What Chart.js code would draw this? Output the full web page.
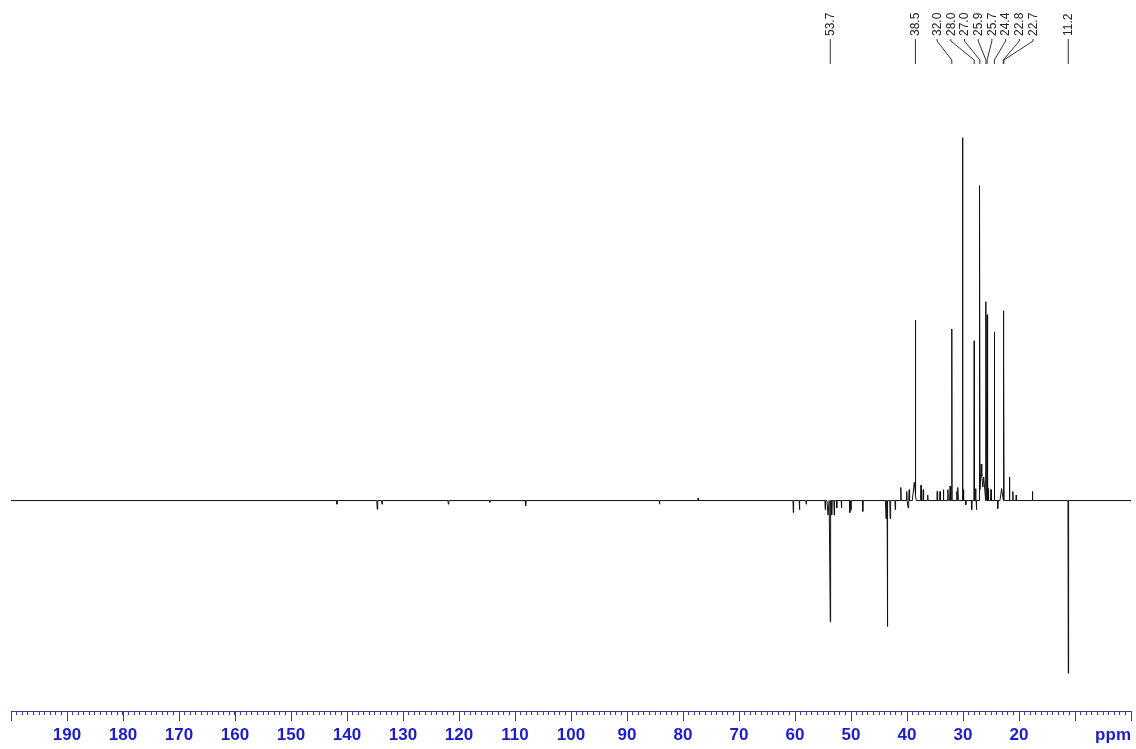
<!DOCTYPE html>
<html>
<head>
<meta charset="utf-8">
<script src="https://cdn.jsdelivr.net/npm/chart.js@4.4.1/dist/chart.umd.min.js"></script>
<style>
  html, body { margin: 0; padding: 0; background: #fff; }
  canvas { display: block; }
</style>
</head>
<body>
<canvas id="spectrum" width="1136" height="749"></canvas>
<script>
// 13C DEPT-135 peak list: chemical shift (ppm), signed intensity, half width at base (ppm)
const peakShifts = [
  141.8, 134.6, 133.75, 121.9, 114.5, 108.1, 84.2, 77.3,
  60.3, 59.2, 58.0, 54.6, 54.1, 53.7, 53.45, 53.0, 52.55, 51.7, 50.2, 50.0, 47.9,
  43.75, 43.5, 43.0, 42.1, 41.1, 40.05, 39.8, 39.6, 38.7, 38.5, 37.5, 37.1, 36.3,
  34.6, 34.1, 33.5, 32.7, 32.3, 32.0, 31.1, 30.9, 30.1, 29.95, 29.5, 28.45, 28.0,
  27.75, 27.6, 27.1, 27.0, 26.75, 26.3, 25.9, 25.7, 25.5, 25.0, 24.4, 23.8, 23.1,
  22.8, 22.7, 21.7, 21.1, 20.5, 17.6, 11.2
];
const peakIntensities = [
  -1.0, -2.4, -1.0, -1.0, -0.5, -1.5, -1.0, 0.7,
  -3.3, -2.5, -1.0, -2.5, -4.0, -33.4, -4.0, -4.0, -2.0, -2.0, -3.3, -2.5, -3.0,
  -5.0, -34.7, -5.0, -2.5, 3.6, 2.5, -2.0, 3.0, 5.0, 47.6, 4.2, 3.0, 1.5,
  2.5, 2.5, 3.0, 3.0, 4.0, 47.3, 2.5, 3.6, 100, 3.0, -1.2, -2.5, 44.0,
  3.3, -2.5, 50.5, 85.1, 10.0, 6.5, 54.8, 51.2, 3.3, 3.0, 46.5, -2.2, 3.3,
  52.3, 38.0, 6.5, 2.5, 1.5, 2.5, -47.6
];
const peakHalfWidths = [
  0.08, 0.08, 0.08, 0.08, 0.08, 0.08, 0.08, 0.08,
  0.06, 0.06, 0.06, 0.06, 0.2, 0.06, 0.08, 0.06, 0.06, 0.06, 0.06, 0.06, 0.06,
  0.1, 0.06, 0.08, 0.06, 0.06, 0.06, 0.06, 0.06, 0.35, 0.05, 0.06, 0.06, 0.06,
  0.06, 0.06, 0.06, 0.06, 0.1, 0.05, 0.06, 0.06, 0.05, 0.06, 0.06, 0.06, 0.05,
  0.06, 0.06, 0.04, 0.04, 0.3, 0.35, 0.04, 0.04, 0.06, 0.06, 0.05, 0.06, 0.3,
  0.04, 0.04, 0.05, 0.06, 0.06, 0.05, 0.06
];

// peaks annotated with their shift along the top
const annotatedShifts = [53.7, 38.5, 32.0, 28.0, 27.0, 25.9, 25.7, 24.4, 22.8, 22.7, 11.2];

// labelled major ticks on the shift axis
const axisTickLabels = [190, 180, 170, 160, 150, 140, 130, 120, 110, 100, 90, 80, 70, 60, 50, 40, 30, 20];
const axisUnit = 'ppm';
const shiftRange = [0, 200];

const AXIS_COLOR = '#3a3a96';
const LABEL_COLOR = '#1c1cc8';
const LABEL_FONT = { family: '"Liberation Sans", Arial, sans-serif', size: 17, weight: 'bold' };
const AXIS_BOX_HEIGHT = 34;

// piecewise-linear spectrum: every peak is a narrow triangle on a flat baseline
function buildSpectrum() {
  const xs = new Set(shiftRange);
  peakShifts.forEach((p, i) => {
    const w = peakHalfWidths[i];
    xs.add(p - w); xs.add(p); xs.add(p + w);
  });
  return [...xs].sort((a, b) => b - a).map(x => ({
    x,
    y: peakShifts.reduce((s, p, i) => {
      const d = Math.abs(x - p), w = peakHalfWidths[i];
      return d < w - 1e-9 ? s + peakIntensities[i] * (1 - d / w) : s;
    }, 0)
  }));
}

// spread crowded labels apart while keeping each group centred on its peaks
function spreadLabels(pixels, gap) {
  const groups = [];
  pixels.forEach((p, i) => {
    groups.push({ members: [i], sum: p });
    while (groups.length > 1) {
      const b = groups[groups.length - 1], a = groups[groups.length - 2];
      const na = a.members.length, nb = b.members.length;
      const startA = a.sum / na - (na - 1) * gap / 2;
      const startB = b.sum / nb - (nb - 1) * gap / 2;
      if (startA + na * gap > startB) {
        a.members.push(...b.members);
        a.sum += b.sum;
        groups.pop();
      } else break;
    }
  });
  const out = [];
  groups.forEach(g => {
    const n = g.members.length;
    const start = g.sum / n - (n - 1) * gap / 2;
    g.members.forEach((m, k) => { out[m] = start + k * gap; });
  });
  return out;
}

const axisDecor = {
  id: 'axisDecor',
  afterDraw(chart) {
    const sx = chart.scales.x;
    const ctx = chart.ctx;
    const y0 = sx.top;
    ctx.save();
    // long tick marks every 10 ppm
    ctx.strokeStyle = AXIS_COLOR;
    ctx.lineWidth = 1;
    ctx.beginPath();
    for (let v = shiftRange[0]; v <= shiftRange[1]; v += 10) {
      const px = Math.round(sx.getPixelForValue(v)) + 0.5;
      ctx.moveTo(px, y0);
      ctx.lineTo(px, y0 + 10);
    }
    ctx.stroke();
    // unit label at the right end of the axis
    const opts = sx.options.ticks;
    const lineHeight = LABEL_FONT.size * 1.2;
    ctx.fillStyle = LABEL_COLOR;
    ctx.font = `bold ${LABEL_FONT.size}px ${LABEL_FONT.family}`;
    ctx.textAlign = 'right';
    ctx.textBaseline = 'middle';
    ctx.fillText(axisUnit, sx.right, y0 + sx.options.grid.tickLength + opts.padding + lineHeight / 2);
    ctx.restore();
  }
};

const shiftLabels = {
  id: 'shiftLabels',
  afterDatasetsDraw(chart) {
    const sx = chart.scales.x;
    const ctx = chart.ctx;
    const peakPx = annotatedShifts.map(v => sx.getPixelForValue(v));
    const labelPx = spreadLabels(peakPx, 13.7);
    ctx.save();
    ctx.strokeStyle = '#333';
    ctx.lineWidth = 1;
    ctx.fillStyle = '#222';
    ctx.font = '12px "Liberation Sans", Arial, sans-serif';
    annotatedShifts.forEach((v, i) => {
      const lx = labelPx[i], px = peakPx[i];
      ctx.beginPath();
      ctx.moveTo(lx, 39);
      ctx.lineTo(lx, 41);
      ctx.lineTo(px, 60);
      ctx.lineTo(px, 64);
      ctx.stroke();
      ctx.save();
      ctx.translate(lx + 0.5, 36);
      ctx.rotate(-Math.PI / 2);
      ctx.textAlign = 'left';
      ctx.textBaseline = 'middle';
      ctx.fillText(v.toFixed(1), 0, 0);
      ctx.restore();
    });
    ctx.restore();
  }
};

new Chart(document.getElementById('spectrum'), {
  type: 'line',
  data: {
    datasets: [{
      data: buildSpectrum(),
      borderColor: '#111',
      borderWidth: 1,
      pointRadius: 0,
      tension: 0,
      fill: false
    }]
  },
  options: {
    responsive: false,
    animation: false,
    events: [],
    layout: { padding: { left: 11, right: 5, top: 0, bottom: 4 } },
    plugins: { legend: { display: false }, tooltip: { enabled: false } },
    scales: {
      x: {
        type: 'linear',
        reverse: true,
        min: shiftRange[0],
        max: shiftRange[1],
        afterFit(scale) {
          scale.height = AXIS_BOX_HEIGHT;
          scale.paddingRight = 0;
          scale.paddingLeft = 0;
        },
        border: { display: true, color: AXIS_COLOR, width: 1 },
        grid: { drawOnChartArea: false, drawTicks: true, tickLength: 4, tickColor: AXIS_COLOR },
        ticks: {
          stepSize: 1,
          autoSkip: false,
          maxRotation: 0,
          minRotation: 0,
          padding: 10,
          color: LABEL_COLOR,
          font: LABEL_FONT,
          callback: v => axisTickLabels.includes(v) ? String(v) : ''
        }
      },
      y: { display: false, min: -58.0, max: 137.95 }
    }
  },
  plugins: [axisDecor, shiftLabels]
});
</script>
</body>
</html>
